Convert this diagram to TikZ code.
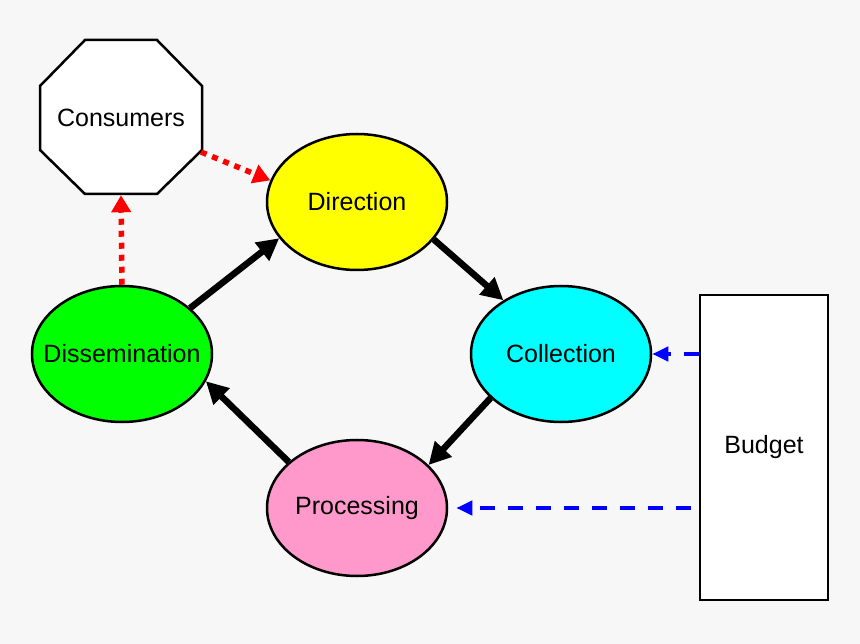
\documentclass[tikz,border=0pt]{standalone}
\usepackage{fontspec}
\setmainfont{Liberation Sans}
\usetikzlibrary{shapes.geometric,arrows.meta}
\definecolor{bg}{HTML}{F7F7F7}
\definecolor{cyellow}{HTML}{FFFF00}
\definecolor{ccyan}{HTML}{00FFFF}
\definecolor{cgreen}{HTML}{00FF00}
\definecolor{cpink}{HTML}{FF99CC}
\begin{document}
\begin{tikzpicture}[x=1pt,y=-1pt,
  lbl/.style={font=\fontsize{25}{30}\selectfont},
  oval/.style={ellipse,draw=black,line width=2.5pt,minimum width=180pt,minimum height=136pt,inner sep=0pt,lbl},
  flow/.style={line width=6.5pt,-{Triangle[length=22pt,width=22pt]}},
  feedback/.style={draw=red,line width=5.5pt,dash pattern=on 6pt off 6pt,-{Triangle[length=17pt,width=19pt]}},
  fund/.style={draw=blue,line width=4pt,dash pattern=on 15pt off 13pt,-{Triangle[length=16pt,width=14pt]}}
]
\fill[bg] (0,0) rectangle (860,644);
\useasboundingbox (0,0) rectangle (860,644);
% Consumers octagon
\filldraw[fill=white,draw=black,line width=2.5pt,line join=miter]
  (85,40) -- (157,40) -- (202,86) -- (202,150) -- (157,194) -- (85,194) -- (40,150) -- (40,86) -- cycle;
\node[lbl,minimum width=162pt,minimum height=154pt,inner sep=0pt] (cons) at (121,118) {Consumers};
\coordinate (consSE) at (201,152);
\node[oval,fill=cyellow] (dir) at (357,202) {Direction};
\node[oval,fill=ccyan] (coll) at (561,354) {Collection};
\node[oval,fill=cgreen,label={[lbl]center:Dissemination}] (diss) at (122,354) {};
\node[oval,fill=cpink] (proc) at (357,508) {Processing};
\node[draw=black,fill=white,line width=2.5pt,minimum width=128pt,minimum height=305pt,inner sep=0pt,lbl] (bud) at (764,447.5) {Budget};
% cycle
\draw[flow] (dir.-26) -- (coll.137);
\draw[flow] (coll.212) -- (proc.31);
\draw[flow] (proc.146) -- (diss.-18);
\draw[flow] (diss.34) -- (dir.205);
% feedback
\draw[feedback] (diss.north) -- (cons.south);
\draw[feedback] (consSE) -- (dir.166);
% budget
\draw[fund] (bud.west |- coll.east) -- (coll.east);
\draw[fund,shorten <=8pt,shorten >=8pt] (bud.west |- proc.east) -- (proc.east);
\end{tikzpicture}
\end{document}
